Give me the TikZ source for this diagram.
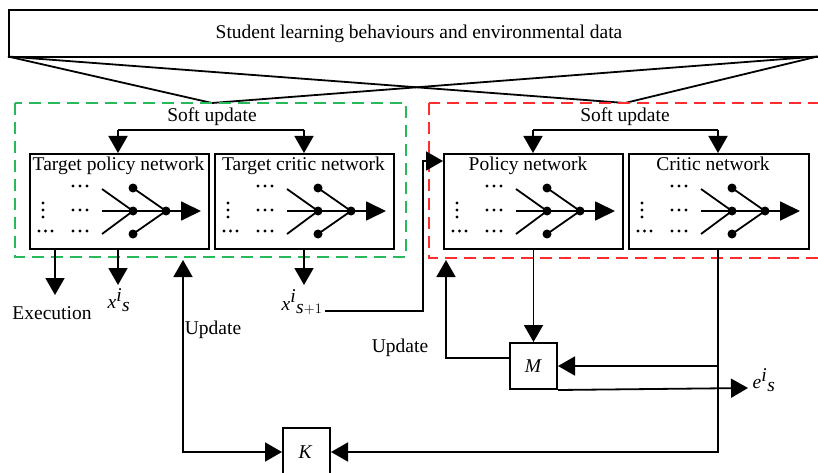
\documentclass[tikz,border=0pt]{standalone}
\usepackage{fontspec}
\setmainfont{Liberation Serif}
\usetikzlibrary{arrows.meta}
\definecolor{gbox}{RGB}{40,185,90}
\definecolor{rbox}{RGB}{255,45,45}
\tikzset{
  arr/.style={line width=1.8pt,-{Triangle[length=17pt,width=19pt]}},
  darr/.style={line width=1.8pt,{Triangle[length=17pt,width=19pt]}-{Triangle[length=17pt,width=19pt]}},
  plain/.style={line width=1.8pt},
  boxst/.style={draw,line width=2pt,anchor=north west,inner sep=0pt},
  neuron/.style={circle,fill=black,inner sep=0pt,minimum size=9pt},
  dotst/.style={circle,fill=black,inner sep=0pt,minimum size=3.4pt},
  lbl/.style={inner sep=0pt,font=\fontsize{19.5}{22}\selectfont},
  ttl/.style={inner sep=0pt,anchor=base,font=\fontsize{19.5}{22}\selectfont},
  gdash/.style={draw=gbox,line width=2pt,dash pattern=on 12pt off 7pt},
  rdash/.style={draw=rbox,line width=2pt,dash pattern=on 12pt off 7pt},
}
\newcommand{\netglyph}[2]{%
  \begin{scope}[shift={(#1,153)}]
    \foreach \yy [count=\k] in {50,57,64}{\node[dotst] (#2v\k) at (14,\yy) {};}
    \foreach \xx [count=\k] in {10,16.5,23}{\node[dotst] (#2b\k) at (\xx,78) {};}
    \foreach \yy [count=\j] in {33,57,78}{
      \foreach \xx [count=\k] in {44,51,58}{\node[dotst] (#2c\j\k) at (\xx,\yy) {};}}
    \coordinate (#2s1) at (73,36);
    \coordinate (#2s2) at (73,58);
    \coordinate (#2s3) at (73,81);
    \node[neuron] (#2n1) at (104,35) {};
    \node[neuron] (#2n2) at (104,58) {};
    \node[neuron] (#2n3) at (104,81) {};
    \node[neuron] (#2n4) at (137,58) {};
    \coordinate (#2out) at (172,58);
    \draw[plain] (#2s1) -- (#2n2.center);
    \draw[plain] (#2s2) -- (#2n2.center);
    \draw[plain] (#2s3) -- (#2n2.center);
    \draw[plain] (#2n1.center) -- (#2n4.center);
    \draw[plain] (#2n3.center) -- (#2n4.center);
    \draw[plain] (#2n2.center) -- (#2n4.center);
    \draw[line width=1.8pt,-{Triangle[length=20pt,width=19pt]}] (#2n4.center) -- (#2out);
  \end{scope}}
\begin{document}
\begin{tikzpicture}[x=1pt,y=-1pt]
\useasboundingbox (0,0) rectangle (818,473);
\clip (0,0) rectangle (818,473);
% top data box
\node[boxst,minimum width=820pt,minimum height=47pt,font=\fontsize{19.5}{22}\selectfont] (data) at (8,9.5) {Student learning behaviours and environmental data};
\coordinate (dl) at (8,56.5);
\coordinate (dr) at (817.5,56.5);
\coordinate (ga) at (212,103);
\coordinate (ra) at (625,103);
\draw[plain] (dl) -- (ga) -- (dr);
\draw[plain] (dl) -- (ra) -- (dr);
% dashed groups
\draw[gdash] (15,103) rectangle (406,257);
\draw[rdash] (429,103) rectangle (840,258);
% network boxes
\node[boxst,minimum width=179pt,minimum height=95pt] (tp) at (29,153) {};
\node[boxst,minimum width=179pt,minimum height=95pt] (tc) at (214,153) {};
\node[boxst,minimum width=179pt,minimum height=95pt] (pn) at (443,153) {};
\node[boxst,minimum width=180pt,minimum height=95pt] (cn) at (628,153) {};
\node[ttl] at (118.5,171) {Target policy network};
\node[ttl] at (303.5,171) {Target critic network};
\node[ttl] at (528,171) {Policy network};
\node[ttl] at (713,171) {Critic network};
\netglyph{29}{A}
\netglyph{214}{B}
\netglyph{443}{C}
\netglyph{628}{D}
% soft updates
\node[ttl] (su1) at (212,122) {Soft update};
\node[ttl] (su2) at (625,122) {Soft update};
\draw[arr] (118,130) -- (tp.north -| 118,0);
\draw[arr] (304,130) -- (tc.north -| 304,0);
\draw[plain] (118,130) -- (304,130);
\draw[arr] (533,130) -- (pn.north -| 533,0);
\draw[arr] (718,130) -- (cn.north -| 718,0);
\draw[plain] (533,130) -- (718,130);
% outputs of target nets
\coordinate (exe) at (55,295);
\coordinate (xs) at (118,285);
\coordinate (xs1) at (304,285);
\draw[arr] (tp.south -| exe) -- (exe);
\draw[arr] (tp.south -| xs) -- (xs);
\draw[arr] (tc.south -| xs1) -- (xs1);
\node[lbl] (exelbl) at (52,313) {Execution};
\node[lbl] (xslbl) at (119,300) {\textit{x}$^{\textit{i}}{}_{\textit{s}}$};
\node[lbl] (xs1lbl) at (302,302) {\textit{x}$^{\textit{i}}{}_{\textit{s}+1}$};
% x_{s+1} to policy network
\coordinate (x1a) at (325,311);
\coordinate (x1b) at (423,311);
\coordinate (x1c) at (423,161);
\draw[line width=1.8pt,-{Triangle[length=17pt,width=19pt]}] (x1a) -- (x1b) -- (x1c) -- (pn.west |- x1c);
% M and K
\node[boxst,minimum width=47pt,minimum height=46pt] (M) at (509,342) {};
\node[lbl] at (M.center) {\textit{M}};
\node[boxst,minimum width=47pt,minimum height=60pt] (K) at (282,427) {};
\node[lbl] at (305.5,452) {\textit{K}};
\draw[arr] (pn.south -| M.north) -- (M.north);
% M to policy update
\coordinate (mu) at (446,260);
\draw[arr] (M.west |- 0,358) -- (446,358) -- (mu);
\node[lbl] (upd2) at (400,348) {Update};
% critic to M and K
\coordinate (cj) at (718,366);
\draw[arr] (cn.south -| cj) -- (718,452) -- (K.east |- 0,452);
\draw[arr] (cj) -- (M.east |- cj);
% M to e
\coordinate (eout) at (748,388);
\draw[arr] (M.south east) -- (eout);
\node[lbl] (elbl) at (764,380) {\textit{e}$^{\textit{i}}{}_{\textit{s}}$};
% K to target update
\coordinate (ku) at (183,260);
\draw[darr] (ku) -- (183,452) -- (K.west |- 0,452);
\node[lbl] (upd1) at (213,330) {Update};
\end{tikzpicture}
\end{document}
